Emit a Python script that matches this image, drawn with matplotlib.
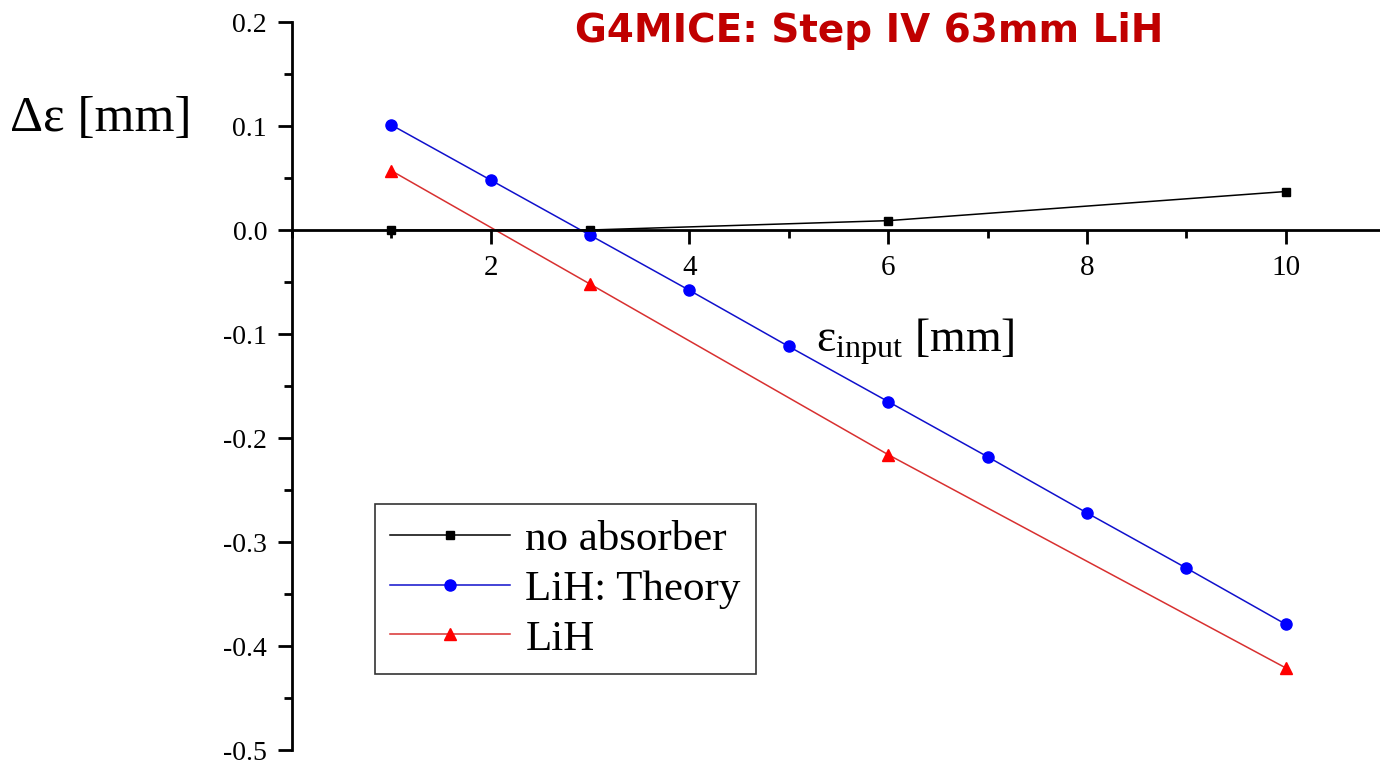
import matplotlib
matplotlib.use('Agg')
import matplotlib.pyplot as plt
from matplotlib.ticker import MultipleLocator

# input emittance [mm] and emittance change [mm]
x_noabs = [1, 3, 6, 10]
y_noabs = [0.0, 0.0, 0.009, 0.037]

x_theory = [1, 2, 3, 4, 5, 6, 7, 8, 9, 10]
y_theory = [0.101, 0.048, -0.005, -0.058, -0.112, -0.165, -0.218, -0.272, -0.325, -0.379]

x_lih = [1, 3, 6, 10]
y_lih = [0.057, -0.052, -0.216, -0.421]

xticks = [2, 4, 6, 8, 10]
yticks = [0.2, 0.1, 0.0, -0.1, -0.2, -0.3, -0.4, -0.5]

serif = 'Liberation Serif'
plt.rcParams['mathtext.fontset'] = 'custom'
plt.rcParams['mathtext.rm'] = serif
plt.rcParams['mathtext.it'] = serif + ':italic'

fig = plt.figure(figsize=(13.8, 7.64), dpi=100)
ax = fig.add_axes([0.2116, 0.0183, 0.7884, 0.9529])

ax.plot(x_noabs, y_noabs, color='black', lw=1.1, marker='s', ms=6, label='no absorber')
ax.plot(x_theory, y_theory, color='#1010cc', lw=1.1, marker='o', ms=8,
        markerfacecolor='blue', markeredgecolor='blue', label='LiH: Theory')
ax.plot(x_lih, y_lih, color='#d83030', lw=1.1, marker='^', ms=9,
        markerfacecolor='red', markeredgecolor='red', label='LiH')

ax.set_xlim(0, 10.95)
ax.set_ylim(-0.5, 0.2)

ax.spines['top'].set_visible(False)
ax.spines['right'].set_visible(False)
ax.spines['bottom'].set_position(('data', 0))
ax.spines['left'].set_linewidth(2)
ax.spines['bottom'].set_linewidth(2)

ax.xaxis.set_minor_locator(MultipleLocator(1))
ax.yaxis.set_minor_locator(MultipleLocator(0.05))
ax.set_xticks(xticks)
ax.set_xticklabels([str(v) for v in xticks], family=serif, fontsize=21)
ax.set_yticks(yticks)
ax.set_yticklabels(['%.1f' % v for v in yticks], family=serif, fontsize=20)
ax.tick_params(axis='both', which='major', direction='out', length=10, width=2, pad=8)
ax.tick_params(axis='both', which='minor', direction='out', length=6, width=2)

fig.text(0.007, 0.845, 'Δε [mm]', fontsize=37, family=serif, va='center', ha='left')
ax.text(0.482, 0.56, r'$\mathrm{\varepsilon}_{\mathrm{input}}$ [mm]', transform=ax.transAxes,
        fontsize=33, family=serif, va='center', ha='left')

fig.text(0.63, 0.96, 'G4MICE: Step IV 63mm LiH', color='#c00000', fontsize=28,
         fontweight='bold', family='DejaVu Sans', ha='center', va='center')

leg = ax.legend(loc='lower left', bbox_to_anchor=(0.076, 0.105),
                prop={'family': serif, 'size': 31}, frameon=True, fancybox=False,
                borderpad=0.35, labelspacing=0.25, handlelength=2.8, handletextpad=0.35,
                borderaxespad=0)
leg.get_frame().set_edgecolor('black')
leg.get_frame().set_linewidth(1.2)

fig.savefig('out.png', dpi=100)
